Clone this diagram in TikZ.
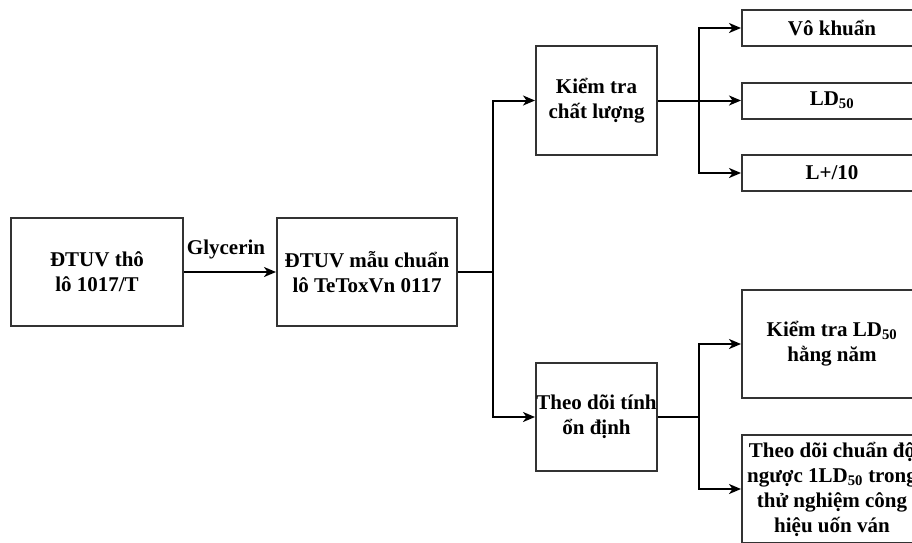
\documentclass[tikz,border=0pt]{standalone}
\usepackage{fontspec}
\setmainfont{Liberation Serif}
\usetikzlibrary{arrows.meta}
\begin{document}
\begin{tikzpicture}[x=1pt,y=-1pt,
 box/.style={draw=black!80, line width=2pt, inner sep=0pt, align=center, font=\fontsize{21}{25}\selectfont\bfseries},
 lbl/.style={inner sep=0pt, font=\fontsize{21}{25}\selectfont\bfseries},
 arr/.style={draw=black, line width=2pt, -{Stealth[length=12pt,width=10pt,inset=3.5pt]}},
 ln/.style={draw=black, line width=2pt}]
\useasboundingbox (0,0) rectangle (912,542);
\fill[white] (0,0) rectangle (912,542);
\clip (0,0) rectangle (912,542);
\node[box, minimum width=172pt, minimum height=108pt] (b1) at (97,272) {ĐTUV thô\\lô 1017/T};
\node[box, minimum width=180pt, minimum height=108pt] (b2) at (367,272) {ĐTUV mẫu chuẩn\\lô TeToxVn 0117};
\node[box, minimum width=121pt, minimum height=109pt] (qc) at (596.5,100.5) {Kiểm tra\\chất lượng};
\node[box, minimum width=121pt, minimum height=108pt] (st) at (596.5,417) {Theo dõi tính\\ổn định};
\node[box, minimum width=180pt, minimum height=36pt] (vk) at (832,28) {Vô khuẩn};
\node[box, minimum width=180pt, minimum height=36pt] (ld) at (832,100.5) {LD\textsubscript{50}};
\node[box, minimum width=180pt, minimum height=36pt] (lp) at (832,173) {L+/10};
\node[box, minimum width=180pt, minimum height=108pt] (ky) at (832,344) {Kiểm tra LD\textsubscript{50}\\hằng năm};
\node[box, minimum width=180pt, minimum height=108pt] (td) at (832,489) {Theo dõi chuẩn độ\\ngược 1LD\textsubscript{50} trong\\thử nghiệm công\\hiệu uốn ván};
\node[lbl] (gly) at (226,249) {Glycerin};
\coordinate (j1) at (493,272);
\coordinate (j2) at (699,100.5);
\coordinate (j3) at (699,417);
\draw[arr] (b1.east) -- (b2.west);
\draw[ln] (b2.east) -- (j1);
\draw[arr] (j1) |- (qc.west);
\draw[arr] (j1) |- (st.west);
\draw[ln] (qc.east) -- (j2);
\draw[arr] (j2) |- (vk.west);
\draw[arr] (j2) -- (ld.west);
\draw[arr] (j2) |- (lp.west);
\draw[ln] (st.east) -- (j3);
\draw[arr] (j3) |- (ky.west);
\draw[arr] (j3) |- (td.west);
\end{tikzpicture}
\end{document}
